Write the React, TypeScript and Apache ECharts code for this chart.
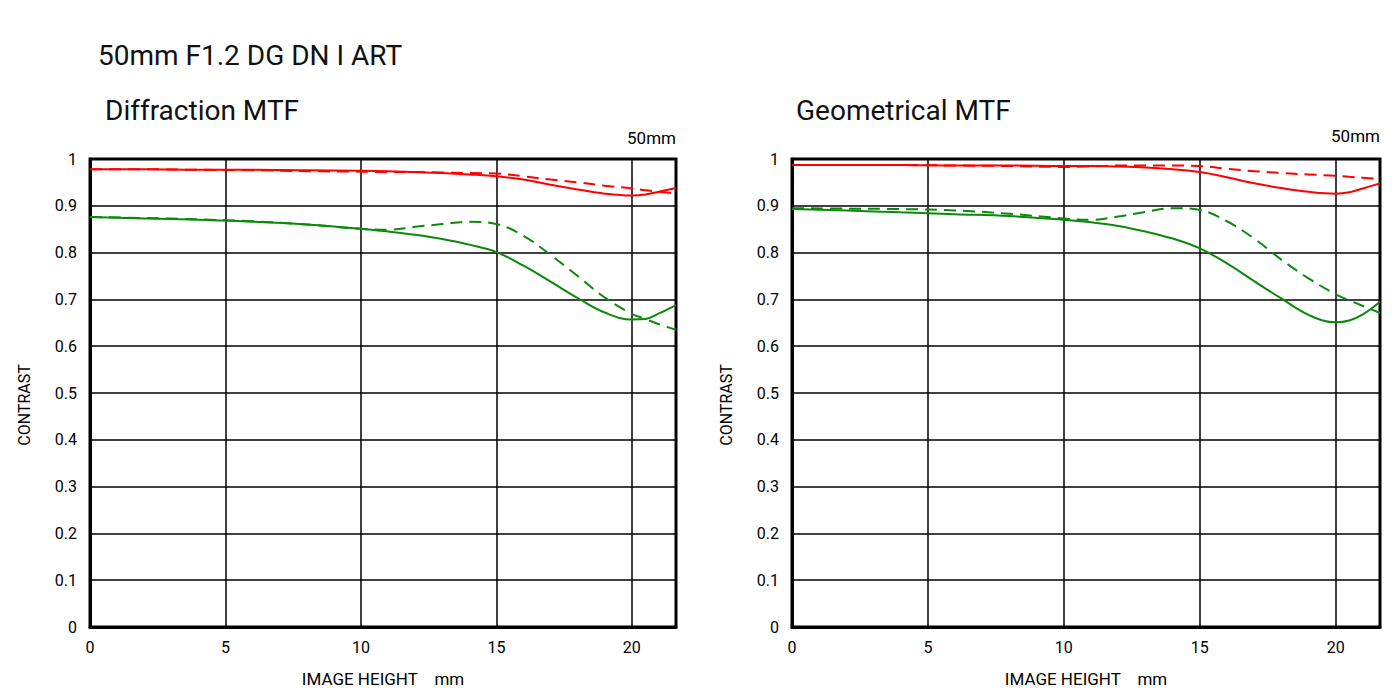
import React, { useEffect, useRef } from "react";
import * as echarts from "echarts";

const title = "50mm F1.2 DG DN I ART";
const leftTitle = "Diffraction MTF";
const rightTitle = "Geometrical MTF";
const focalLabel = "50mm";
const xName = "IMAGE HEIGHT    mm";
const yName = "CONTRAST";

const imageHeights = [0, 2, 4, 6, 8, 10, 11, 12, 13, 14, 15, 16, 17, 18, 19, 20, 20.5, 21, 21.63];

// Diffraction MTF
const diffRedSolid = [0.978, 0.978, 0.977, 0.977, 0.976, 0.975, 0.974, 0.972, 0.970, 0.967, 0.963, 0.956, 0.945, 0.935, 0.926, 0.922, 0.924, 0.930, 0.938];
const diffRedDashed = [0.978, 0.978, 0.977, 0.976, 0.974, 0.973, 0.972, 0.972, 0.971, 0.970, 0.969, 0.963, 0.956, 0.950, 0.943, 0.937, 0.933, 0.930, 0.926];
const diffGreenSolid = [0.876, 0.873, 0.870, 0.866, 0.860, 0.851, 0.845, 0.838, 0.829, 0.817, 0.801, 0.772, 0.738, 0.703, 0.672, 0.657, 0.658, 0.670, 0.688];
const diffGreenDashed = [0.876, 0.874, 0.871, 0.867, 0.860, 0.851, 0.849, 0.855, 0.861, 0.866, 0.861, 0.836, 0.795, 0.750, 0.704, 0.669, 0.658, 0.647, 0.635];

// Geometrical MTF
const geoRedSolid = [0.987, 0.987, 0.987, 0.986, 0.986, 0.985, 0.985, 0.984, 0.982, 0.978, 0.972, 0.961, 0.948, 0.938, 0.930, 0.926, 0.929, 0.937, 0.948];
const geoRedDashed = [0.987, 0.987, 0.987, 0.986, 0.985, 0.983, 0.984, 0.986, 0.986, 0.986, 0.985, 0.979, 0.974, 0.970, 0.967, 0.964, 0.962, 0.960, 0.957];
const geoGreenSolid = [0.893, 0.890, 0.886, 0.882, 0.878, 0.870, 0.865, 0.857, 0.845, 0.830, 0.809, 0.777, 0.739, 0.702, 0.667, 0.651, 0.655, 0.668, 0.695];
const geoGreenDashed = [0.895, 0.894, 0.893, 0.890, 0.883, 0.873, 0.870, 0.877, 0.887, 0.895, 0.891, 0.867, 0.830, 0.785, 0.745, 0.711, 0.698, 0.686, 0.671];

const xMax = 21.63;
const RED = "#ff0000";
const GREEN = "#0a8a0a";
const TEXT = "#000";
const FONT = "Roboto, sans-serif";
const TITLE_FONT = "Roboto, sans-serif";

function pairs(vals: number[]) {
  return imageHeights.map((x, i) => [x, vals[i]]);
}

export default function App() {
  const ref = useRef<HTMLDivElement>(null);

  useEffect(() => {
    if (!ref.current) return;
    const chart = echarts.init(ref.current, null, { renderer: "svg" });

    const grids = [
      { left: 90, top: 159, width: 586, height: 468 },
      { left: 792, top: 159, width: 588, height: 468 },
    ];

    const xAxes = grids.map((_, i) => ({
      type: "value",
      gridIndex: i,
      min: 0,
      max: xMax,
      interval: 5,
      name: xName,
      nameLocation: "middle",
      nameGap: 43,
      nameTextStyle: { color: TEXT, fontSize: 17, fontFamily: FONT },
      axisLine: { show: true, lineStyle: { color: "#000", width: 3 } },
      axisTick: { show: false },
      axisLabel: {
        color: TEXT,
        fontSize: 16,
        fontFamily: FONT,
        margin: 12,
        formatter: (v: number) => (Math.abs(v - Math.round(v)) < 1e-6 && Math.round(v) % 5 === 0 ? String(v) : ""),
      },
      splitLine: { show: true, lineStyle: { color: "#000", width: 1.5 } },
    }));

    const yAxes = grids.map((_, i) => ({
      type: "value",
      gridIndex: i,
      min: 0,
      max: 1,
      interval: 0.1,
      axisLine: { show: true, lineStyle: { color: "#000", width: 3 } },
      axisTick: { show: false },
      axisLabel: {
        color: TEXT,
        fontSize: 16,
        fontFamily: FONT,
        margin: 13,
        formatter: (v: number) => (v === 0 ? "0" : v === 1 ? "1" : v.toFixed(1)),
      },
      splitLine: { show: true, lineStyle: { color: "#000", width: 1.5 } },
    }));

    const mk = (name: string, vals: number[], idx: number, color: string, dashed: boolean) => ({
      type: "line",
      name,
      xAxisIndex: idx,
      yAxisIndex: idx,
      data: pairs(vals),
      smooth: 0.4,
      showSymbol: false,
      symbol: "none",
      lineStyle: { color, width: 2, type: dashed ? [12, 7] : "solid" },
      z: 5,
    });

    chart.setOption({
      animation: false,
      backgroundColor: "#fff",
      grid: grids.map((g) => ({ ...g, show: true, borderColor: "#000", borderWidth: 3, backgroundColor: "transparent" })),
      xAxis: xAxes,
      yAxis: yAxes,
      series: [
        mk("diffRedDashed", diffRedDashed, 0, RED, true),
        mk("diffRedSolid", diffRedSolid, 0, RED, false),
        mk("diffGreenDashed", diffGreenDashed, 0, GREEN, true),
        mk("diffGreenSolid", diffGreenSolid, 0, GREEN, false),
        mk("geoRedDashed", geoRedDashed, 1, RED, true),
        mk("geoRedSolid", geoRedSolid, 1, RED, false),
        mk("geoGreenDashed", geoGreenDashed, 1, GREEN, true),
        mk("geoGreenSolid", geoGreenSolid, 1, GREEN, false),
      ],
      graphic: [
        { type: "text", left: 98, top: 41, style: { text: title, fontSize: 28, fontFamily: TITLE_FONT, fill: "#111" } },
        { type: "text", left: 105, top: 96, style: { text: leftTitle, fontSize: 28, fontFamily: TITLE_FONT, fill: "#111" } },
        { type: "text", left: 796, top: 96, style: { text: rightTitle, fontSize: 28, fontFamily: TITLE_FONT, fill: "#111" } },
        { type: "text", x: 676, y: 138, style: { text: focalLabel, fontSize: 17, fontFamily: FONT, fill: TEXT, align: "right", verticalAlign: "middle" } },
        { type: "text", x: 1380, y: 136, style: { text: focalLabel, fontSize: 17, fontFamily: FONT, fill: TEXT, align: "right", verticalAlign: "middle" } },
        { type: "text", x: 24, y: 405, rotation: Math.PI / 2, style: { text: yName, fontSize: 16, fontFamily: FONT, fill: TEXT, align: "center", verticalAlign: "middle" } },
        { type: "text", x: 726, y: 405, rotation: Math.PI / 2, style: { text: yName, fontSize: 16, fontFamily: FONT, fill: TEXT, align: "center", verticalAlign: "middle" } },
      ],
    });

    return () => chart.dispose();
  }, []);

  return (
    <div
      ref={ref}
      style={{ position: "fixed", left: 0, top: 0, width: 1400, height: 700, background: "#fff" }}
    />
  );
}
